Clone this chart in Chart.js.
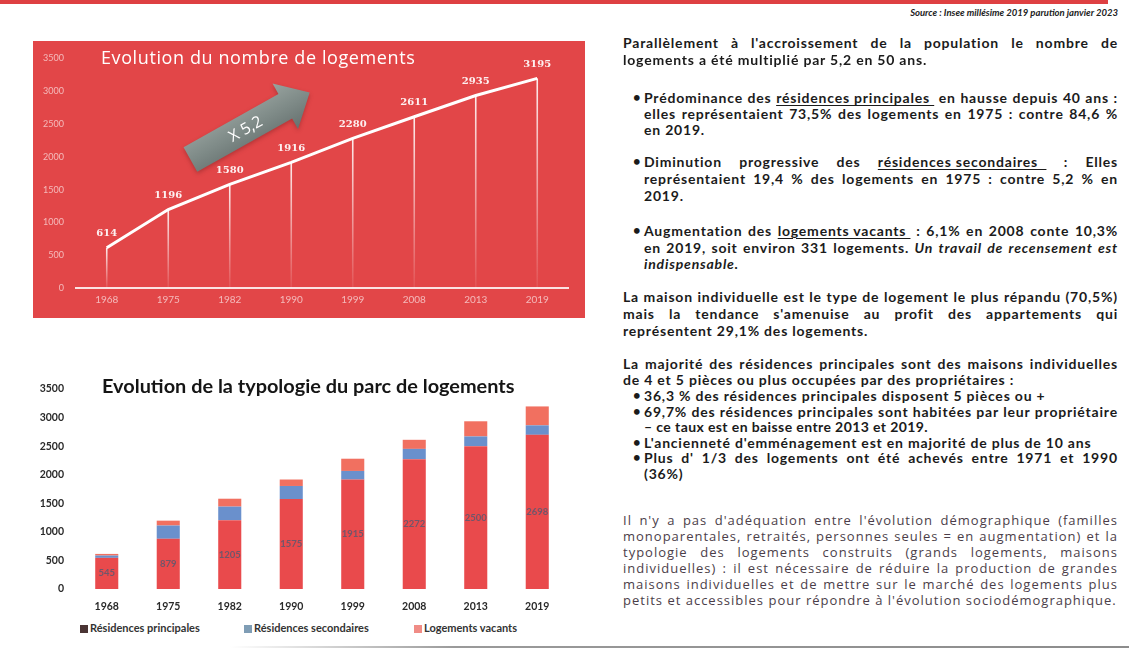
<!DOCTYPE html>
<html lang="fr">
<head>
<meta charset="utf-8">
<title>Logements</title>
<script src="https://cdn.jsdelivr.net/npm/chart.js@4.4.1/dist/chart.umd.min.js"></script>
<style>
  html, body { margin: 0; padding: 0; background: #fff; }
  body { width: 1129px; height: 653px; position: relative; overflow: hidden; font-family: Lato, "Open Sans", sans-serif; }
  .abs { position: absolute; }
  #bandeau { left: 0; top: 0; width: 1108px; height: 4px; background: rgb(222, 64, 66); }
  #panneau { left: 33px; top: 41px; width: 552px; height: 277px; background: rgb(226, 70, 72); }
  #typo { left: 20px; top: 370px; width: 570px; height: 247px; }
  .titre1 { position: absolute; left: 68px; top: 4px; color: #fff; font: 400 18px "Open Sans"; line-height: 24px; white-space: nowrap; letter-spacing: 0.6px; }
  .titre2 { position: absolute; left: 82px; top: 2px; color: #151515; font: 700 19.9px Lato; line-height: 26px; white-space: nowrap; }
  .legende { position: absolute; top: 621px; height: 14px; line-height: 14px; font: 700 11px Lato; color: #333; white-space: nowrap; }
  .legende i { display: inline-block; width: 8px; height: 8px; margin-right: 2px; vertical-align: -0.5px; }
  .l { position: absolute; left: 623px; width: 495px; height: 16px; line-height: 16px; font: 700 14px Lato; letter-spacing: 0.8px; color: #1b1b1b; white-space: nowrap; }
  .b { left: 644px; width: 474px; }
  .j { display: flex; justify-content: space-between; }
  .puce { position: absolute; left: 633px; height: 16px; line-height: 16px; font: 700 13px Lato; color: #1b1b1b; }
  .u { text-decoration: underline; text-decoration-thickness: 1px; text-underline-offset: 2px; white-space: pre; }
  .it { font-style: italic; }
  .r { font: 400 13px "Open Sans"; color: #4b3e49; letter-spacing: 1px; }
  #source { position: absolute; right: 11px; top: 7px; font: italic 700 9.5px Lato; color: #222; white-space: nowrap; }
  #bord { left: 230px; top: 646px; width: 899px; height: 2px; background: linear-gradient(to right, rgba(150,150,150,0), #9a9a9a 25%, #8c8c8c); }
</style>
</head>
<body>
<div id="bandeau" class="abs"></div>

<div id="panneau" class="abs">
  <canvas id="evolution"></canvas>
  <div class="titre1">Evolution du nombre de logements</div>
</div>

<div id="typo" class="abs">
  <canvas id="typologie"></canvas>
  <div class="titre2">Evolution de la typologie du parc de logements</div>
</div>
<div class="legende" style="left:80px"><i id="sw0"></i>Résidences principales</div>
<div class="legende" style="left:244px"><i id="sw1"></i>Résidences secondaires</div>
<div class="legende" style="left:414px"><i id="sw2"></i>Logements vacants</div>

<div id="source">Source : Insee millésime 2019 parution janvier 2023</div>

<div class="l j" style="top:34px">Parallèlement à l'accroissement de la population le nombre de</div>
<div class="l" style="top:51px">logements a été multiplié par 5,2 en 50 ans.</div>

<div class="puce" style="top:89px">•</div>
<div class="l b j" style="top:89px">Prédominance des <span class="u">résidences principales </span>en hausse depuis 40 ans :</div>
<div class="l b j" style="top:105px">elles représentaient 73,5% des logements en 1975 : contre 84,6 %</div>
<div class="l b" style="top:121px">en 2019.</div>

<div class="puce" style="top:153px">•</div>
<div class="l b j" style="top:153px">Diminution progressive des <span class="u">résidences secondaires  </span>: Elles</div>
<div class="l b j" style="top:170px">représentaient 19,4 % des logements en 1975 : contre 5,2 % en</div>
<div class="l b" style="top:187px">2019.</div>

<div class="puce" style="top:222px">•</div>
<div class="l b j" style="top:222px">Augmentation des <span class="u">logements vacants </span>: 6,1% en 2008 conte 10,3%</div>
<div class="l b j" style="top:239px">en 2019, soit environ 331 logements. <span class="it">Un travail de recensement est</span></div>
<div class="l b it" style="top:255px">indispensable.</div>

<div class="l j" style="top:288px">La maison individuelle est le type de logement le plus répandu (70,5%)</div>
<div class="l j" style="top:305px">mais la tendance s'amenuise au profit des appartements qui</div>
<div class="l" style="top:322px">représentent 29,1% des logements.</div>

<div class="l j" style="top:355px">La majorité des résidences principales sont des maisons individuelles</div>
<div class="l" style="top:371px">de 4 et 5 pièces ou plus occupées par des propriétaires :</div>
<div class="puce" style="top:387px">•</div>
<div class="l b" style="top:387px">36,3 % des résidences principales disposent 5 pièces ou +</div>
<div class="puce" style="top:403px">•</div>
<div class="l b j" style="top:403px">69,7% des résidences principales sont habitées par leur propriétaire</div>
<div class="l b" style="top:418px;letter-spacing:0.4px">– ce taux est en baisse entre 2013 et 2019.</div>
<div class="puce" style="top:434px">•</div>
<div class="l b" style="top:434px">L'ancienneté d'emménagement est en majorité de plus de 10 ans</div>
<div class="puce" style="top:449px">•</div>
<div class="l b j" style="top:449px">Plus d' 1/3 des logements ont été achevés entre 1971 et 1990</div>
<div class="l b" style="top:465px">(36%)</div>

<div class="l r j" style="top:511px">Il n'y a pas d'adéquation entre l'évolution démographique (familles</div>
<div class="l r j" style="top:527px">monoparentales, retraités, personnes seules = en augmentation) et la</div>
<div class="l r j" style="top:543px">typologie des logements construits (grands logements, maisons</div>
<div class="l r j" style="top:559px">individuelles) : il est nécessaire de réduire la production de grandes</div>
<div class="l r j" style="top:575px">maisons individuelles et de mettre sur le marché des logements plus</div>
<div class="l r" style="top:591px">petits et accessibles pour répondre à l'évolution sociodémographique.</div>

<div id="bord" class="abs"></div>

<script>
// Recensements
const annees = ['1968', '1975', '1982', '1990', '1999', '2008', '2013', '2019'];
const nombreLogements = [614, 1196, 1580, 1916, 2280, 2611, 2935, 3195];

// Répartition du parc par type
const residencesPrincipales = [545, 879, 1205, 1575, 1915, 2272, 2500, 2698];
const residencesSecondaires = [40, 232, 237, 228, 151, 180, 170, 166];
const logementsVacants = [29, 85, 138, 113, 214, 159, 265, 331];

// Graduations communes aux deux graphiques
const graduations = [0, 500, 1000, 1500, 2000, 2500, 3000, 3500];
const multiplicateur = 'X 5,2';

const couleurs = {
  principales: 'rgb(233, 74, 76)',
  secondaires: 'rgb(106, 144, 204)',
  vacants: 'rgb(241, 112, 96)'
};
const pastilles = ['#4a3434', '#7f9db5', '#f08c86'];
pastilles.forEach((c, i) => { document.getElementById('sw' + i).style.background = c; });

// Lignes justifiées : chaque mot devient un élément réparti sur la largeur
document.querySelectorAll('.j').forEach(el => {
  const items = [];
  el.childNodes.forEach(n => {
    if (n.nodeType === 3) {
      n.textContent.split(/\s+/).filter(Boolean).forEach(w => {
        const s = document.createElement('span'); s.textContent = w; items.push(s);
      });
    } else if (n.classList.contains('u')) {
      items.push(n.cloneNode(true));
    } else {
      n.textContent.split(/\s+/).filter(Boolean).forEach(w => {
        const s = document.createElement('span'); s.className = n.className; s.textContent = w; items.push(s);
      });
    }
  });
  el.textContent = '';
  items.forEach(s => el.appendChild(s));
});

const pas = graduations[1] - graduations[0];
const yMin = graduations[0];
const yMax = graduations[graduations.length - 1];
const sansSeparateur = v => String(v);

// Traits verticaux sous chaque point de la courbe
const traitsVerticaux = {
  id: 'traitsVerticaux',
  beforeDatasetsDraw(chart) {
    const ctx = chart.ctx;
    const bas = chart.scales.y.getPixelForValue(0);
    ctx.save();
    chart.getDatasetMeta(0).data.forEach(p => {
      const g = ctx.createLinearGradient(0, p.y, 0, bas);
      g.addColorStop(0, 'rgba(255,255,255,0.9)');
      g.addColorStop(0.55, 'rgba(255,255,255,0.45)');
      g.addColorStop(1, 'rgba(255,255,255,0.08)');
      ctx.strokeStyle = g;
      ctx.lineWidth = 1.6;
      ctx.beginPath();
      ctx.moveTo(p.x, p.y);
      ctx.lineTo(p.x, bas);
      ctx.stroke();
    });
    ctx.restore();
  }
};

// Flèche grise « X 5,2 » posée dans le repère du graphique
const flecheCroissance = {
  id: 'flecheCroissance',
  beforeDatasetsDraw(chart, args, opts) {
    const { ctx, scales: { x, y } } = chart;
    const x0 = x.getPixelForValue(opts.debut[0]), y0 = y.getPixelForValue(opts.debut[1]);
    const x1 = x.getPixelForValue(opts.fin[0]), y1 = y.getPixelForValue(opts.fin[1]);
    const ang = Math.atan2(y1 - y0, x1 - x0);
    const L = Math.hypot(x1 - x0, y1 - y0);
    const e = 14, t = 26, lt = 28;
    ctx.save();
    ctx.translate(x0, y0);
    ctx.rotate(ang);
    ctx.shadowColor = 'rgba(90,20,20,0.35)';
    ctx.shadowBlur = 4;
    ctx.shadowOffsetY = 2;
    const g = ctx.createLinearGradient(0, -t, 0, t);
    g.addColorStop(0, '#98a39f');
    g.addColorStop(0.5, '#7f8b88');
    g.addColorStop(1, '#66716f');
    ctx.fillStyle = g;
    ctx.beginPath();
    ctx.moveTo(0, -e);
    ctx.lineTo(L - lt, -e);
    ctx.lineTo(L - lt, -t);
    ctx.lineTo(L, 0);
    ctx.lineTo(L - lt, t);
    ctx.lineTo(L - lt, e);
    ctx.lineTo(0, e);
    ctx.closePath();
    ctx.fill();
    ctx.shadowColor = 'transparent';
    ctx.fillStyle = '#ffffff';
    ctx.font = '400 16px "Open Sans"';
    ctx.textAlign = 'center';
    ctx.textBaseline = 'middle';
    ctx.fillText(opts.texte, (L - lt) * 0.58, 1);
    ctx.restore();
  }
};

// Valeur écrite au-dessus de chaque point
const valeursPoints = {
  id: 'valeursPoints',
  afterDatasetsDraw(chart) {
    const ctx = chart.ctx;
    const ds = chart.data.datasets[0].data;
    ctx.save();
    ctx.fillStyle = 'rgba(255,255,255,0.92)';
    ctx.font = '700 10px "DejaVu Serif"';
    ctx.textAlign = 'center';
    ctx.textBaseline = 'middle';
    chart.getDatasetMeta(0).data.forEach((p, i) => {
      ctx.fillText(String(ds[i]), p.x, p.y - 14);
    });
    ctx.restore();
  }
};

new Chart(document.getElementById('evolution'), {
  type: 'line',
  data: {
    labels: annees,
    datasets: [{
      data: nombreLogements,
      borderColor: '#ffffff',
      borderWidth: 3,
      pointRadius: 0,
      tension: 0,
      fill: false
    }]
  },
  options: {
    responsive: true,
    maintainAspectRatio: false,
    animation: false,
    devicePixelRatio: 1,
    layout: { padding: { top: 16, right: 17, left: 0, bottom: 0 } },
    plugins: {
      legend: { display: false },
      tooltip: { enabled: false },
      flecheCroissance: { debut: [1.36, 1960], fin: [3.3, 2980], texte: multiplicateur }
    },
    scales: {
      x: {
        offset: true,
        grid: { display: false, drawTicks: false },
        border: { display: true, color: 'rgba(255,255,255,0.85)', width: 2 },
        ticks: { color: 'rgba(255,255,255,0.62)', font: { family: 'Lato', size: 10 }, padding: 6, maxRotation: 0 },
        afterFit: s => { s.height = 30; }
      },
      y: {
        min: yMin, max: yMax,
        grid: { display: false, drawTicks: false },
        border: { display: false },
        ticks: { stepSize: pas, callback: sansSeparateur, color: 'rgba(255,255,255,0.62)', font: { family: 'Lato', size: 9 }, padding: 12 },
        afterFit: s => { s.width = 43; }
      }
    }
  },
  plugins: [traitsVerticaux, flecheCroissance, valeursPoints]
});

// Valeur au centre du segment des résidences principales
const valeursSegments = {
  id: 'valeursSegments',
  afterDatasetsDraw(chart) {
    const ctx = chart.ctx;
    const ds = chart.data.datasets[0].data;
    ctx.save();
    ctx.fillStyle = 'rgba(90,88,112,0.85)';
    ctx.font = '700 9.5px Lato';
    ctx.textAlign = 'center';
    ctx.textBaseline = 'middle';
    chart.getDatasetMeta(0).data.forEach((b, i) => {
      ctx.fillText(String(ds[i]), b.x, (b.y + b.base) / 2);
    });
    ctx.restore();
  }
};

new Chart(document.getElementById('typologie'), {
  type: 'bar',
  data: {
    labels: annees,
    datasets: [
      { label: 'Résidences principales', data: residencesPrincipales, backgroundColor: couleurs.principales },
      { label: 'Résidences secondaires', data: residencesSecondaires, backgroundColor: couleurs.secondaires },
      { label: 'Logements vacants', data: logementsVacants, backgroundColor: couleurs.vacants }
    ]
  },
  options: {
    responsive: true,
    maintainAspectRatio: false,
    animation: false,
    devicePixelRatio: 1,
    layout: { padding: { top: 19, right: 22, left: 0, bottom: 0 } },
    datasets: { bar: { categoryPercentage: 1, barPercentage: 0.375 } },
    plugins: { legend: { display: false }, tooltip: { enabled: false } },
    scales: {
      x: {
        stacked: true,
        grid: { display: false, drawTicks: false },
        border: { display: false },
        ticks: { color: '#2a2a2a', font: { family: 'Lato', size: 10.5, weight: '700' }, padding: 11, maxRotation: 0 },
        afterFit: s => { s.height = 28; }
      },
      y: {
        stacked: true,
        min: yMin, max: yMax,
        grid: { display: false, drawTicks: false },
        border: { display: false },
        ticks: { stepSize: pas, callback: sansSeparateur, color: '#2a2a2a', font: { family: 'Lato', size: 10.5, weight: '700' }, padding: 12 },
        afterFit: s => { s.width = 56; }
      }
    }
  },
  plugins: [valeursSegments]
});
</script>
</body>
</html>
